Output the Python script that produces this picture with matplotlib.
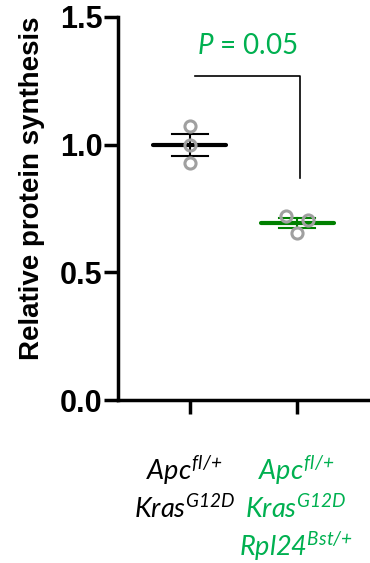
import matplotlib
matplotlib.use('agg')
import matplotlib.pyplot as plt
import numpy as np

plt.rcParams['font.family'] = ['Liberation Sans', 'DejaVu Sans']
plt.rcParams['mathtext.fontset'] = 'custom'
plt.rcParams['mathtext.it'] = 'Lato:italic'
plt.rcParams['mathtext.rm'] = 'Lato:italic'
plt.rcParams['mathtext.default'] = 'it'

# data
groups = ['ctrl', 'bst']
ctrl_vals = [1.074, 1.0, 0.926]
bst_vals = [0.72, 0.703, 0.655]
bst_jitter = [-0.105, 0.106, 0.0]
tick_labels = [[r'$\mathit{Apc}^{\mathit{fl/{+}}}$', r'$\mathit{Kras}^{\mathit{G12D}}$'],
               [r'$\mathit{Apc}^{\mathit{fl/{+}}}$', r'$\mathit{Kras}^{\mathit{G12D}}$',
                r'$\mathit{Rpl24}^{\mathit{Bst/{+}}}$']]
label_colors = ['black', '#00b050']
mean_colors = ['black', '#008000']

fig = plt.figure(figsize=(3.70, 5.63), dpi=100)
ax = fig.add_axes([0.319, 0.2895, 0.681, 0.6805])

all_vals = [ctrl_vals, bst_vals]
jitters = [[0, 0, 0], bst_jitter]
for i, vals in enumerate(all_vals):
    vals = np.array(vals)
    m = vals.mean()
    sem = vals.std(ddof=1) / np.sqrt(len(vals))
    c = mean_colors[i]
    ax.plot([i - 0.34, i + 0.34], [m, m], color=c, lw=3, solid_capstyle='round', zorder=2)
    ax.plot([i, i], [m - sem, m + sem], color=c, lw=1.5, zorder=2)
    for yy in [m - sem, m + sem]:
        ax.plot([i - 0.17, i + 0.17], [yy, yy], color=c, lw=1.5, zorder=2)
    xs = [i + j for j in jitters[i]]
    ax.plot(xs, vals, 'o', ms=8, mfc='none', mec='#a0a0a0', mew=2.2, zorder=3)

# significance bracket
ax.plot([0.05, 1.03, 1.03], [1.27, 1.27, 0.87], color='black', lw=1.2, clip_on=False)
ax.text(0.54, 1.385, r'$P$ = 0.05', color='#00b050', fontsize=20,
        ha='center', va='center', family=['Lato', 'DejaVu Sans'])

ax.set_xlim(-0.67, 1.68)
ax.set_ylim(0, 1.5)
ax.set_yticks([0, 0.5, 1.0, 1.5])
ax.set_yticklabels(['0.0', '0.5', '1.0', '1.5'], fontsize=22, fontweight='bold')
ax.set_xticks([0, 1])
ax.set_xticklabels(['', ''])
ax.spines['top'].set_visible(False)
ax.spines['right'].set_visible(False)
ax.spines['left'].set_linewidth(2.5)
ax.spines['bottom'].set_linewidth(2.5)
ax.tick_params(axis='both', width=2.5, length=10, pad=1)
ax.set_ylabel('Relative protein synthesis', fontsize=20, fontweight='bold')
ax.yaxis.set_label_coords(-0.29, 0.553)

line_y = [-0.275, -0.43, -0.575]
label_x = [-0.05, 0.99]
for i, lines in enumerate(tick_labels):
    for k, t in enumerate(lines):
        ax.text(label_x[i], line_y[k], t, fontsize=19.5, color=label_colors[i],
                ha='center', va='center', clip_on=False)

plt.savefig('out.png', dpi=100)
